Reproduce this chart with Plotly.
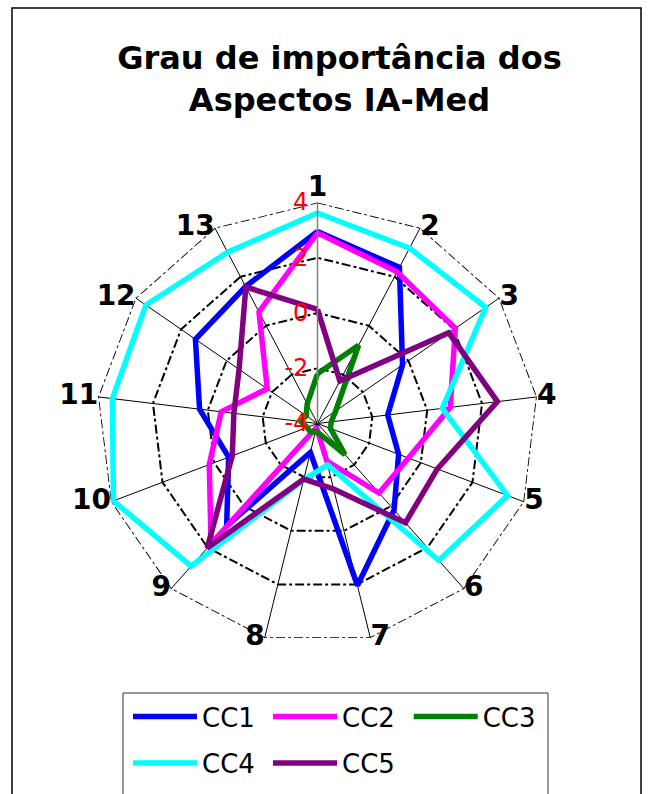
import plotly.graph_objects as go

# ---- data ----
axes_labels = [str(i) for i in range(1, 14)]
cc1 = [2.95, 2.38, -0.26, -1.44, -0.86, 0.18, 2.04, -2.92, 0.96, -0.56, 0.30, 1.37, 1.60]
cc2 = [2.90, 2.20, 2.06, 0.84, -0.48, -0.64, -2.60, -3.85, 1.81, 0.19, -0.49, -1.79, 0.56]
cc3 = [-2.20, -0.80, -3.20, -3.50, -3.50, -2.50, -3.60, -3.70, -3.60, -3.60, -3.40, -3.50, -3.20]
cc4 = [3.62, 3.17, 3.40, 0.55, 3.36, 2.62, -2.46, -1.90, 2.90, 3.90, 3.48, 3.55, 3.00]
cc5 = [0.13, -2.26, 1.78, 2.56, 0.64, 0.80, -1.56, -1.93, 2.02, -0.70, -0.95, -0.55, 1.58]
series_names = ["CC1", "CC2", "CC3", "CC4", "CC5"]
series_values = [cc1, cc2, cc3, cc4, cc5]
series_colors = ["#0000FF", "#FF00FF", "#008000", "#00FFFF", "#800080"]
radial_ticks = [-4, -2, 0, 2, 4]
radial_range = [-4, 4]
label_positions = ["top center"] + ["middle right"] * 6 + ["middle left"] * 6

W, H = 649, 794
cx, cy, R = 317.5, 423.5, 221
font_fam = "DejaVu Sans, Liberation Sans, Arial, sans-serif"

fig = go.Figure()

# outer ring of the grid (at the radial maximum), dash-dot like the inner rings
fig.add_trace(go.Scatterpolar(
    r=[radial_range[1]] * (len(axes_labels) + 1),
    theta=axes_labels + axes_labels[:1],
    mode="lines", line=dict(color="black", width=1.8, dash="dashdot"),
    showlegend=False, hoverinfo="skip",
))

legend_slots = [("legend", 128, 716.7), ("legend2", 268, 716.7), ("legend3", 408.7, 716.7),
                ("legend4", 128, 763.0), ("legend5", 268, 763.0)]

for name, vals, col, (lg, _, _) in zip(series_names, series_values, series_colors, legend_slots):
    fig.add_trace(go.Scatterpolar(
        r=vals + vals[:1],
        theta=axes_labels + axes_labels[:1],
        mode="lines",
        name=name,
        line=dict(color=col, width=5.5),
        legend=lg,
    ))

# axis labels 1..13 placed just outside the outer ring
fig.add_trace(go.Scatterpolar(
    r=[radial_range[1]] * len(axes_labels),
    theta=axes_labels,
    mode="text",
    text=axes_labels,
    textposition=label_positions,
    textfont=dict(family=font_fam, size=28, color="black", weight="bold"),
    cliponaxis=False,
    showlegend=False, hoverinfo="skip",
))

legend_layouts = {}
for lg, lx, ly in legend_slots:
    legend_layouts[lg] = dict(
        orientation="v",
        x=lx / W, xanchor="left",
        y=1 - ly / H, yanchor="middle",
        itemwidth=64,
        font=dict(family=font_fam, size=26, color="black"),
        bgcolor="rgba(0,0,0,0)",
        borderwidth=0,
    )

fig.update_layout(
    width=W, height=H,
    margin=dict(l=0, r=0, t=0, b=0),
    paper_bgcolor="white",
    plot_bgcolor="white",
    title=dict(
        text="Grau de importância dos<br>Aspectos IA-Med",
        font=dict(family=font_fam, size=32, color="black", weight="bold"),
        x=339.5 / W, xanchor="center",
        y=1 - 69 / H, yanchor="middle",
    ),
    polar=dict(
        domain=dict(x=[(cx - R) / W, (cx + R) / W], y=[1 - (cy + R) / H, 1 - (cy - R) / H]),
        bgcolor="white",
        gridshape="linear",
        angularaxis=dict(
            type="category",
            categoryarray=axes_labels,
            direction="clockwise",
            rotation=90,
            showline=False,
            showgrid=True,
            gridcolor="black",
            gridwidth=0.8,
            ticks="",
            showticklabels=False,
        ),
        radialaxis=dict(
            range=radial_range,
            tickvals=radial_ticks,
            ticktext=[str(v) for v in radial_ticks],
            angle=90,
            tickangle=90,
            side="counterclockwise",
            showline=True,
            linecolor="#808080",
            linewidth=1.5,
            gridcolor="black",
            gridwidth=1.8,
            griddash="dashdot",
            ticks="",
            tickfont=dict(family=font_fam, size=24, color="red"),
        ),
    ),
    shapes=[
        dict(type="rect", xref="paper", yref="paper",
             x0=12 / W, x1=641 / W, y0=-0.05, y1=1 - 8 / H,
             line=dict(color="black", width=1.5), fillcolor="rgba(0,0,0,0)"),
        dict(type="rect", xref="paper", yref="paper",
             x0=123 / W, x1=548 / W, y0=-0.05, y1=1 - 693 / H,
             line=dict(color="#333333", width=1), fillcolor="rgba(0,0,0,0)"),
    ],
    **legend_layouts,
)

fig.write_html(
    "out.html",
    config={"displayModeBar": False},
    post_script="document.body.style.margin='0';document.body.style.overflow='hidden';",
)
